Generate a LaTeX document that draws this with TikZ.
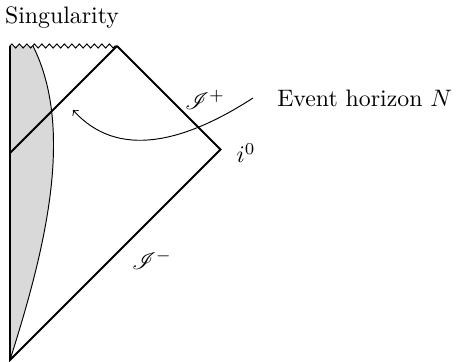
\documentclass[tikz,border=0pt]{standalone}
\usepackage{amsmath, amssymb}
\usepackage{mathrsfs}
\usetikzlibrary{decorations.pathmorphing}

\begin{document}
\begin{tikzpicture}[
    x=0.42pt, y=-0.42pt,
    boundary/.style={thick},
    singular/.style={decorate, decoration={zigzag, segment length=3.15pt, amplitude=0.85pt}},
    star/.style={fill=black!15},
    >=to
  ]
  \useasboundingbox (0,0) rectangle (460,362);

  % Corners of the diagram
  \coordinate (o)   at (10,360);
  \coordinate (tl)  at (10,46);
  \coordinate (top) at (117,46);
  \coordinate (io)  at (220.5,149.5);
  \coordinate (hl)  at (10,153);
  \coordinate (st)  at (33,46);

  % Collapsing star
  \fill[star] (o) -- (tl) -- (st) .. controls (75,130) and (45,250) .. (o);
  \draw (o) .. controls (45,250) and (75,130) .. (st);

  % Singularity and boundaries
  \draw[singular] (tl) -- (top);
  \draw[boundary] (top) -- (io) -- (o) -- (tl);
  \draw[boundary] (hl) -- (top);

  % Labels
  \node (sing)  at (62,18)   {Singularity};
  \node (scrip) at (205,100) {$\mathscr{I}^+$};
  \node (inf)   at (246,153) {$i^0$};
  \node (scrim) at (152,260) {$\mathscr{I}^-$};
  \node[anchor=west, inner xsep=10pt] (ev) at (253,98) {Event horizon $N$};

  % Arrow to the horizon
  \coordinate (tip) at (73,110);
  \draw[->] (ev.west) .. controls (185,142) and (118,160) .. (tip);
\end{tikzpicture}
\end{document}
